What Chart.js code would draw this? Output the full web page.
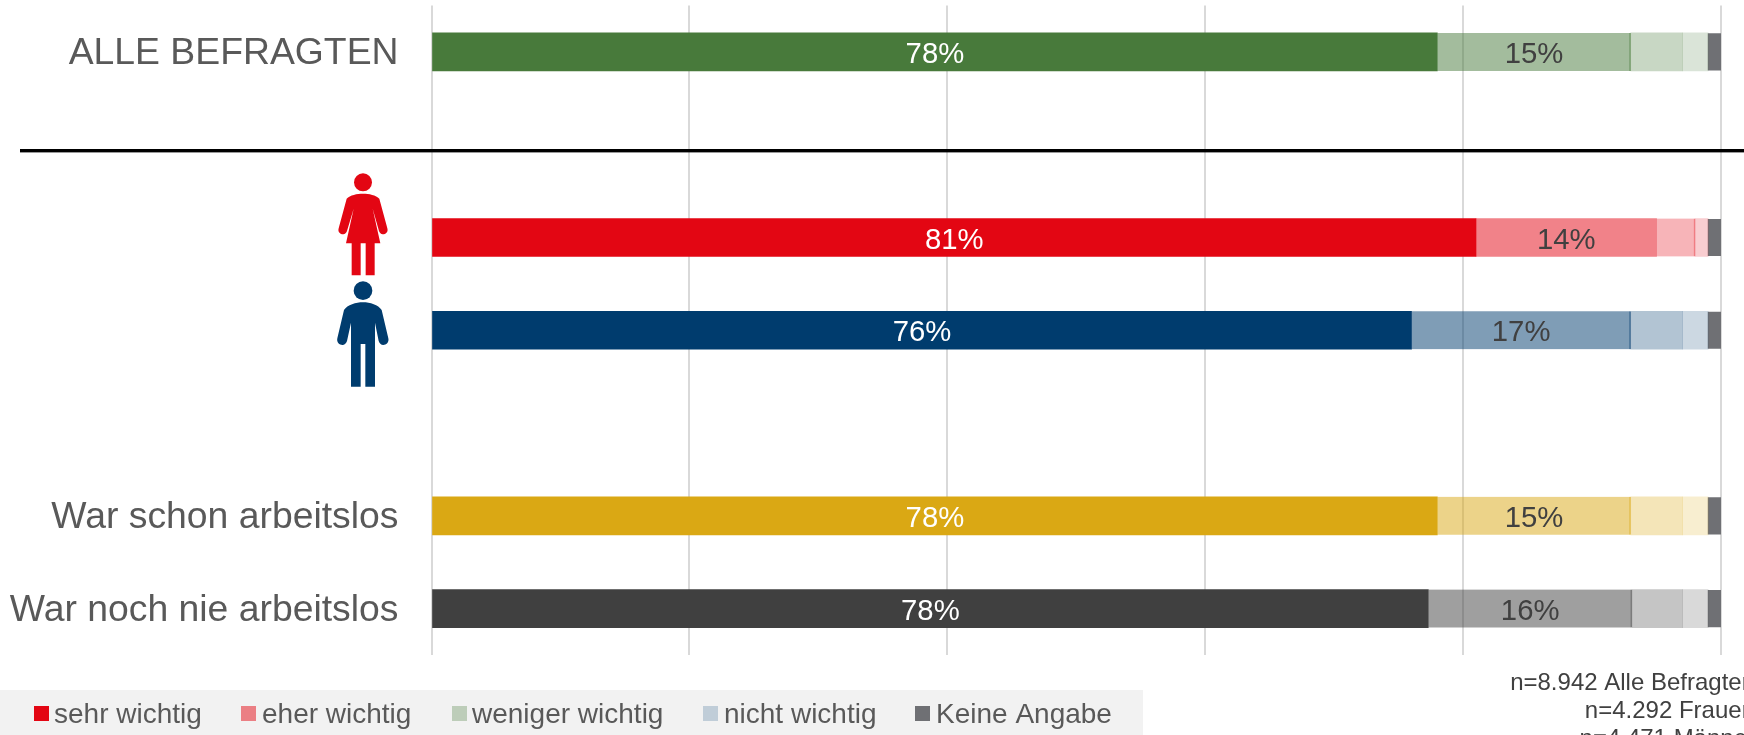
<!DOCTYPE html>
<html lang="de">
<head>
<meta charset="utf-8">
<title>Wichtigkeit</title>
<script src="https://cdn.jsdelivr.net/npm/chart.js@4"></script>
<style>
html,body{margin:0;padding:0;background:#fff;width:1744px;height:735px;overflow:hidden}
#wrap{position:relative;width:1744px;height:735px}
canvas{position:absolute;left:0;top:0}
svg{position:absolute;left:300px;top:160px}
</style>
</head>
<body>
<div id="wrap">
<canvas id="c" width="1744" height="735"></canvas>
<svg width="150" height="240" viewBox="0 0 450 720" role="img" aria-label="Frauen und Männer">
  <g fill="#E30613">
    <circle cx="189" cy="67" r="27"/>
    <path d="M189 101 C207 101 228 105 238 116 L262 205 C266 218 254 224 248 223 C243 222 239 219 237 213 L218 146 L241 250 L224 250 L224 346 L197 346 L197 250 L182 250 L182 346 L155 346 L155 250 L138 250 L161 146 L141 213 C139 219 135 222 130 223 C124 224 112 218 116 205 L140 116 C150 105 171 101 189 101 Z"/>
  </g>
  <g fill="#003C6E">
    <circle cx="189" cy="392" r="28"/>
    <path d="M189 427 C210 427 235 435 245 450 L265 535 C268 548 258 555 250 555 C243 555 238 550 236 543 L225 488 L225 680 L196 680 L196 552 L182 552 L182 680 L153 680 L153 488 L141 543 C139 550 134 555 127 555 C119 555 109 548 112 535 L132 450 C142 435 168 427 189 427 Z"/>
  </g>
</svg>
</div>
<script>
const categories = ["ALLE BEFRAGTEN", "", "", "", "", "War schon arbeitslos", "War noch nie arbeitslos"];
const seriesNames = ["sehr wichtig", "eher wichtig", "weniger wichtig", "nicht wichtig", "Keine Angabe"];
const sehrWichtig    = [78, null, 81, 76, null, 78, 77.3];
const eherWichtig    = [15, null, 14, 17, null, 15, 15.8];
const wenigerWichtig = [4,  null, 3,  4,  null, 4,  3.9];
const nichtWichtig   = [2,  null, 1,  2,  null, 2,  2];
const keineAngabe    = [1,  null, 1,  1,  null, 1,  1];
const sehrLabels = ["78%", "", "81%", "76%", "", "78%", "78%"];
const eherLabels = ["15%", "", "14%", "17%", "", "15%", "16%"];
const rowRgb = ["72,122,59", "0,0,0", "227,6,19", "0,60,110", "0,0,0", "218,168,20", "64,64,64"];
const legendColors = ["#E30613", "#EB7F84", "#BDCDB9", "#C0CDD8", "#6F7074"];
const sampleNotes = ["n=8.942 Alle Befragten", "n=4.292 Frauen", "n=4.471 Männer"];

const FONT = '"Liberation Sans", Arial, sans-serif';
const rowColors = a => rowRgb.map(c => `rgba(${c},${a})`);

const overlay = {
  id: 'overlay',
  afterDatasetsDraw(chart) {
    const ctx = chart.ctx;
    ctx.save();
    ctx.textAlign = 'center';
    ctx.textBaseline = 'middle';
    ctx.font = `29.3px ${FONT}`;
    [[0, sehrLabels, '#FFFFFF'], [1, eherLabels, '#404040']].forEach(([ds, labels, col]) => {
      chart.getDatasetMeta(ds).data.forEach((bar, i) => {
        if (!labels[i]) return;
        ctx.fillStyle = col;
        ctx.fillText(labels[i], (bar.x + bar.base) / 2, bar.y + 3);
      });
    });
    ctx.restore();
  },
  afterDraw(chart) {
    const ctx = chart.ctx;
    ctx.save();
    // Trennlinie
    ctx.fillStyle = '#000';
    ctx.fillRect(20, 149, 1724, 3.4);
    // Legende
    ctx.fillStyle = '#F2F2F2';
    ctx.fillRect(0, 690, 1143, 45);
    const boxX = [34, 241, 452, 703, 915];
    const textX = [54, 262, 472, 724, 936];
    ctx.font = `28px ${FONT}`;
    ctx.textBaseline = 'middle';
    ctx.textAlign = 'left';
    seriesNames.forEach((name, i) => {
      ctx.fillStyle = legendColors[i];
      ctx.fillRect(boxX[i], 706, 15, 15);
      ctx.fillStyle = '#595959';
      ctx.fillText(name, textX[i], 715);
    });
    // Fallzahlen
    ctx.font = `24px ${FONT}`;
    ctx.textAlign = 'right';
    ctx.fillStyle = '#404040';
    sampleNotes.forEach((t, i) => ctx.fillText(t, 1755, 683 + i * 28));
    ctx.restore();
  }
};

const thinEdge = (rows) => ctx => rows.includes(ctx.dataIndex) ? {right: 1} : 0;

new Chart(document.getElementById('c'), {
  type: 'bar',
  data: {
    labels: categories,
    datasets: [
      {label: seriesNames[0], data: sehrWichtig, backgroundColor: rowColors(1), barThickness: 38},
      {label: seriesNames[1], data: eherWichtig, backgroundColor: rowColors(0.5), barThickness: 38,
        borderColor: rowColors(0.58), borderWidth: thinEdge([0, 3, 5, 6]), borderSkipped: false},
      {label: seriesNames[2], data: wenigerWichtig, backgroundColor: rowColors(0.3), barThickness: 38,
        borderColor: rowColors(0.42), borderWidth: thinEdge([2]), borderSkipped: false},
      {label: seriesNames[3], data: nichtWichtig, backgroundColor: rowColors(0.2), barThickness: 38},
      {label: seriesNames[4], data: keineAngabe, backgroundColor: '#6F7074', barThickness: 36.5}
    ]
  },
  options: {
    indexAxis: 'y',
    responsive: false,
    animation: false,
    devicePixelRatio: 1,
    layout: {padding: {left: 0, right: 23, top: 5.5, bottom: 80}},
    plugins: {legend: {display: false}, tooltip: {enabled: false}, title: {display: false}},
    scales: {
      x: {
        stacked: true, min: 0, max: 100,
        ticks: {display: false, stepSize: 20},
        grid: {color: '#D9D9D9', lineWidth: 2, drawTicks: false},
        border: {display: false}
      },
      y: {
        stacked: true,
        afterFit(s) { s.width = 431.5; s.paddingTop = 0; s.paddingBottom = 0; },
        ticks: {color: '#595959', font: {family: FONT, size: 37.33}, padding: 33, autoSkip: false, labelOffset: 2},
        grid: {display: false, drawTicks: false},
        border: {display: false}
      }
    }
  },
  plugins: [overlay]
});
</script>
</body>
</html>
